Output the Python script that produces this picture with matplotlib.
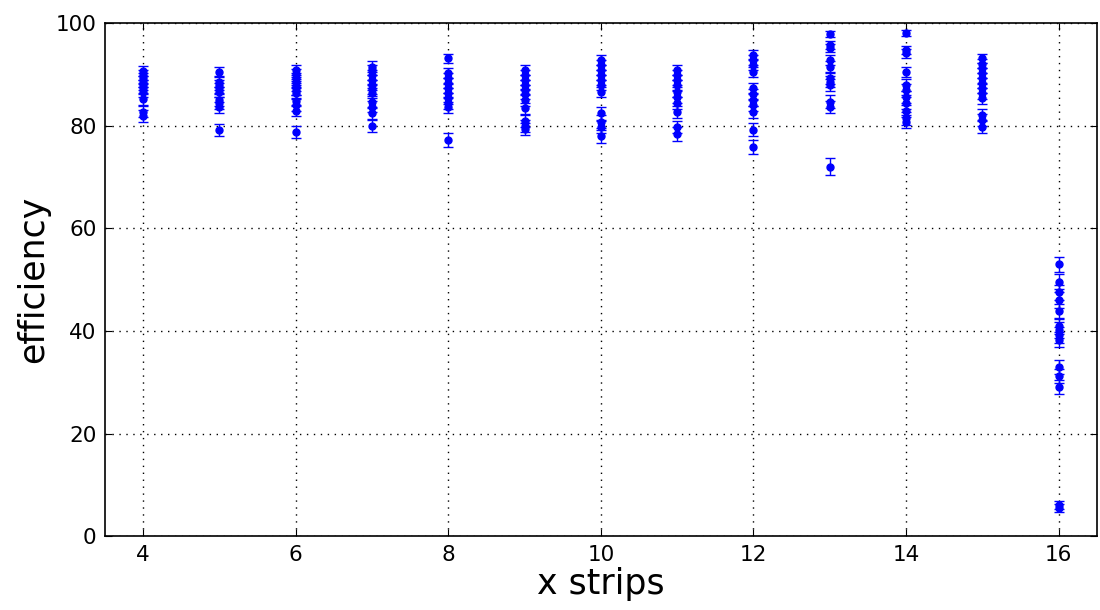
import matplotlib
matplotlib.use("Agg")
import matplotlib.pyplot as plt

# Efficiency measured per x strip (several runs per strip)
strip_04 = [90.7, 89.9, 89.2, 88.6, 87.9, 87.3, 86.6, 85.1, 82.7, 81.9]
strip_05 = [90.4, 88.6, 87.9, 87.3, 86.6, 85.0, 84.4, 83.6, 79.2]
strip_06 = [90.8, 90.1, 89.3, 88.5, 87.7, 87.0, 86.3, 84.9, 84.0, 82.9, 78.8]
strip_07 = [91.5, 90.8, 89.9, 88.9, 87.9, 87.1, 86.3, 84.7, 83.7, 82.4, 79.9]
strip_08 = [93.1, 90.2, 89.2, 88.3, 87.3, 86.3, 85.3, 84.4, 83.6, 77.2]
strip_09 = [90.8, 89.9, 88.9, 87.9, 87.0, 86.1, 85.0, 83.4, 80.9, 79.9, 79.3]
strip_10 = [92.8, 91.8, 90.8, 89.9, 88.9, 87.9, 86.6, 82.4, 80.8, 79.8, 77.9]
strip_11 = [90.8, 89.9, 88.9, 87.9, 86.6, 85.6, 84.4, 82.7, 79.7, 78.4]
strip_12 = [93.8, 92.8, 91.8, 90.5, 87.3, 86.1, 85.0, 84.0, 82.7, 79.2, 75.9]
strip_13 = [97.9, 95.7, 95.1, 92.8, 91.5, 89.2, 88.6, 87.9, 84.7, 83.6, 72.0]
strip_14 = [98.0, 94.7, 94.1, 90.5, 87.9, 87.0, 85.6, 84.4, 82.9, 81.4, 80.8]
strip_15 = [93.1, 92.1, 91.2, 90.2, 89.2, 88.3, 87.3, 86.3, 85.3, 82.1, 81.1, 79.8]
strip_16 = [53.0, 49.6, 47.5, 46.0, 43.8, 41.0, 40.2, 39.2, 38.3, 33.0, 31.2, 29.1, 6.1, 5.5]

# Statistical uncertainty on each efficiency, per strip
err_04 = [1.0, 1.0, 1.0, 1.0, 1.0, 1.0, 1.0, 1.0, 1.1, 1.1]
err_05 = [1.0, 1.0, 1.0, 1.0, 1.0, 1.1, 1.1, 1.1, 1.2]
err_06 = [1.0, 1.0, 1.0, 1.0, 1.0, 1.0, 1.0, 1.1, 1.1, 1.1, 1.2]
err_07 = [1.0, 1.0, 1.0, 1.0, 1.0, 1.0, 1.0, 1.1, 1.1, 1.1, 1.2]
err_08 = [0.9, 1.0, 1.0, 1.0, 1.0, 1.0, 1.1, 1.1, 1.1, 1.3]
err_09 = [1.0, 1.0, 1.0, 1.0, 1.0, 1.0, 1.1, 1.1, 1.2, 1.2, 1.2]
err_10 = [0.9, 1.0, 1.0, 1.0, 1.0, 1.0, 1.0, 1.2, 1.2, 1.2, 1.3]
err_11 = [1.0, 1.0, 1.0, 1.0, 1.0, 1.1, 1.1, 1.2, 1.2, 1.3]
err_12 = [0.9, 0.9, 1.0, 1.0, 1.0, 1.1, 1.1, 1.1, 1.2, 1.3, 1.4]
err_13 = [0.6, 0.8, 0.8, 1.0, 1.0, 1.1, 1.1, 1.1, 1.2, 1.2, 1.7]
err_14 = [0.6, 0.8, 0.9, 1.0, 1.1, 1.1, 1.1, 1.2, 1.2, 1.3, 1.3]
err_15 = [0.9, 0.9, 1.0, 1.0, 1.0, 1.0, 1.0, 1.1, 1.1, 1.2, 1.2, 1.3]
err_16 = [1.5, 1.5, 1.5, 1.5, 1.5, 1.5, 1.5, 1.5, 1.5, 1.4, 1.4, 1.4, 0.7, 0.7]

strip_numbers = [4, 5, 6, 7, 8, 9, 10, 11, 12, 13, 14, 15, 16]
efficiencies = [strip_04, strip_05, strip_06, strip_07, strip_08, strip_09,
                strip_10, strip_11, strip_12, strip_13, strip_14, strip_15, strip_16]
errors = [err_04, err_05, err_06, err_07, err_08, err_09,
          err_10, err_11, err_12, err_13, err_14, err_15, err_16]

fig = plt.figure(figsize=(11, 6.1), dpi=100, facecolor="white")
ax = fig.add_axes([0.0955, 0.1208, 0.9015, 0.8415])

for strip, eff, err in zip(strip_numbers, efficiencies, errors):
    ax.errorbar([strip] * len(eff), eff, yerr=err, fmt="o", color="blue",
                ecolor="blue", markersize=5, markeredgecolor="blue",
                capsize=3.6, capthick=1.0, elinewidth=1.0, zorder=3)

ax.set_xlim(3.5, 16.5)
ax.set_ylim(0, 100)
ax.set_xticks([4, 6, 8, 10, 12, 14, 16])
ax.set_yticks([0, 20, 40, 60, 80, 100])

ax.grid(True, linestyle=(0, (1, 4)), color="black", linewidth=1.0, zorder=0)
ax.set_axisbelow(True)

ax.tick_params(direction="in", length=5, width=0.8, top=True, right=True,
               labelsize=15.5, pad=6, colors="black")
for spine in ax.spines.values():
    spine.set_linewidth(1.2)

ax.set_xlabel("x strips", fontsize=25, labelpad=2)
ax.set_ylabel("efficiency", fontsize=25, labelpad=4)

fig.savefig("out.png", dpi=100, facecolor="white")
